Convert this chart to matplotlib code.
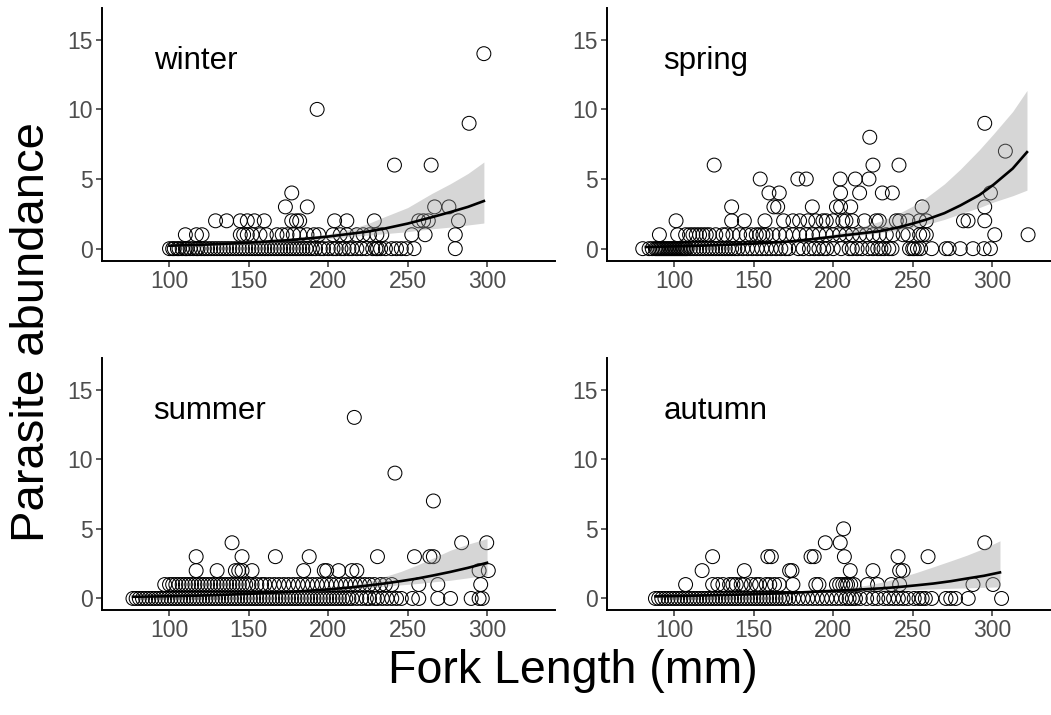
import matplotlib
matplotlib.use("Agg")
import matplotlib.pyplot as plt
import numpy as np

plt.rcParams['font.family'] = ['Liberation Sans', 'DejaVu Sans']

# fork length (mm) of each fish, grouped by parasite count
winter = {
    0: [100, 102, 103, 105, 106, 108, 110, 111, 113, 115, 117, 118, 120, 122, 124,
        126, 128, 130, 132, 134, 136, 138, 140, 142, 144, 146, 148, 150, 152, 154,
        156, 158, 160, 162, 164, 166, 168, 170, 172, 174, 176, 178, 180, 182, 184,
        186, 188, 190, 192, 195, 197, 200, 203, 205, 208, 210, 213, 215, 218, 221,
        224, 228, 230, 231, 233, 236, 240, 243, 246, 249, 254, 280],
    1: [110, 117, 120.5, 144.6, 146.7, 149, 152, 157, 161, 167.7, 171, 174, 178, 182,
        186.6, 191, 194, 203, 207.5, 211.7, 218, 222, 226, 230.6, 233.7, 252.6, 261, 280],
    2: [129, 136, 144.6, 149, 153.5, 159.7, 177, 180, 182, 204, 211.7, 229, 257, 260,
        263, 282],
    3: [173, 186.8, 267, 276],
    4: [177],
    6: [241.7, 264.8],
    9: [288.7],
    10: [193],
    14: [298],
}

spring = {
    0: [80, 84, 86, 88, 89, 90, 91, 92, 93, 94, 95, 96, 97, 98, 99, 100, 101, 102,
        103, 104, 105, 106, 107, 108, 110, 112, 114, 116, 118, 120, 122, 124, 126,
        128, 130, 132, 134, 136, 138, 140, 143, 146, 149, 152, 155, 158, 161, 164,
        167, 170, 172, 178, 181, 185, 188, 191, 194, 196, 200, 205, 210, 212, 215,
        218, 222, 225, 228, 230, 232, 235, 237, 248, 250, 251, 253, 255, 262, 271,
        273, 280, 288, 295, 299],
    1: [90.5, 102, 107, 109.5, 111.6, 113.7, 115.8, 117.9, 120, 122, 126, 130.5,
        132.6, 136.8, 141, 145.2, 148.3, 151.5, 153.6, 155.7, 157.8, 162, 166, 170,
        174.6, 178.8, 183, 187, 191, 195.6, 199.8, 204, 208, 212, 216.6, 220.8, 225,
        229, 233.4, 237.6, 244, 247, 254.4, 256.5, 258.6, 301.7, 322.7],
    2: [101, 136, 144, 157, 168.7, 174.6, 178.8, 184, 189, 193.5, 195.6, 199.8, 206,
        208, 212, 219.7, 227, 229, 239.7, 241.8, 247, 254.4, 258.6, 282, 284.9, 295.4],
    3: [136, 162.6, 165, 186.8, 202, 204.6, 211, 256, 295.4],
    4: [159.5, 166, 204.6, 216.6, 230.9, 237.2, 299],
    5: [154, 177.7, 183, 204.4, 213.9, 222.5],
    6: [125, 225, 241.4],
    7: [308.4],
    8: [223],
    9: [295.4],
}

summer = {
    0: [77, 79, 81, 83, 85, 87, 89, 91, 93, 95, 97, 99, 101, 103, 105, 107, 109, 111,
        113, 115, 117, 119, 121, 123, 125, 127, 129, 131, 133, 135, 137, 139, 141,
        143, 145, 147, 149, 151, 153, 155, 157, 159, 161, 163, 165, 167, 169, 171,
        173, 175, 177, 179, 181, 183, 185, 187, 189, 191, 193, 195, 197, 199, 201,
        203, 205, 207, 209, 211, 213, 215, 218, 221, 224, 226, 229, 231, 234, 237,
        240, 243, 246, 253, 257, 269, 277, 290, 295, 297],
    1: [97, 100, 102, 104, 106, 108, 110, 112, 114, 116, 118, 120, 122, 124, 126, 128,
        130, 132, 134, 136, 138, 140, 142, 144, 146, 148, 150, 152, 155, 158, 160,
        163, 166, 169, 172, 175, 178, 181, 184, 187, 190, 193, 196, 199, 202, 205,
        208, 211, 214, 217, 220, 223, 226, 229, 233, 236, 240, 257, 269, 296],
    2: [116.8, 130, 141.5, 143.6, 145.7, 152, 184.5, 197.5, 199, 206.5, 214.9, 218,
        295, 300.8],
    3: [116.8, 145.7, 166.7, 188, 231, 254.3, 264, 266.2],
    4: [139.4, 284, 299.8],
    7: [266.2],
    9: [242],
    13: [216.4],
}

autumn = {
    0: [88, 90, 92, 94, 96, 98, 100, 102, 104, 106, 108, 110, 112, 114, 116, 118,
        120, 122, 124, 126, 128, 130, 132, 134, 136, 138, 140, 142, 144, 146, 148,
        150, 152, 154, 156, 158, 160, 162, 164, 166, 168, 170, 172, 175, 178, 181,
        184, 187, 190, 193, 196, 199, 202, 205, 208, 210, 212, 214, 217, 221, 225,
        228, 232, 235, 238, 241, 244, 247, 251, 254, 256, 258, 262, 271, 274, 277,
        285, 306],
    1: [107, 124, 127.3, 130.5, 134.7, 136.8, 138.9, 142, 144, 148.3, 151.5, 153.6,
        157.8, 160, 163, 166, 174.6, 189, 191, 202, 204, 206, 207.8, 209, 211, 213,
        221.6, 227.9, 236.6, 241.8, 288, 300.6],
    2: [117.4, 144, 172.5, 174, 210.7, 225, 241.8, 244],
    3: [124, 158.8, 161, 186, 188, 207, 240.8, 259.7],
    4: [195, 204.4, 295.4],
    5: [206.5],
}

# fitted curve and its shaded band
winter_fx = [100, 125, 150, 175, 193, 200, 214, 225, 235, 250, 256, 265, 277, 288, 298]
winter_fit = [0.21, 0.3, 0.43, 0.61, 0.79, 0.87, 1.07, 1.23, 1.43, 1.8, 1.98, 2.25,
              2.63, 3.0, 3.42]
winter_lo = [0.13, 0.2, 0.32, 0.5, 0.66, 0.72, 0.88, 0.97, 1.07, 1.22, 1.31, 1.42,
             1.55, 1.7, 1.84]
winter_hi = [0.34, 0.44, 0.57, 0.75, 0.95, 1.05, 1.4, 1.8, 2.27, 2.95, 3.35, 3.95,
             4.67, 5.4, 6.22]

spring_fx = [82, 100, 125, 150, 166, 175, 198, 210, 229, 240, 250, 259, 270, 280,
             292, 301, 313, 322]
spring_fit = [0.12, 0.16, 0.24, 0.36, 0.47, 0.54, 0.83, 1.0, 1.25, 1.5, 1.8, 2.1,
              2.55, 3.1, 3.85, 4.6, 5.75, 6.93]
spring_lo = [0.09, 0.13, 0.2, 0.31, 0.41, 0.47, 0.73, 0.88, 1.12, 1.3, 1.5, 1.75,
             2.1, 2.5, 2.95, 3.35, 3.8, 4.2]
spring_hi = [0.16, 0.2, 0.29, 0.42, 0.54, 0.63, 1.0, 1.3, 1.95, 2.45, 3.05, 3.7,
             4.65, 5.7, 7.1, 8.25, 9.85, 11.36]

summer_fx = [77, 100, 125, 150, 175, 200, 214, 225, 235, 246, 256, 266, 277, 288, 300]
summer_fit = [0.12, 0.16, 0.22, 0.33, 0.46, 0.65, 0.79, 0.93, 1.07, 1.25, 1.43, 1.65,
              1.91, 2.2, 2.56]
summer_lo = [0.09, 0.12, 0.18, 0.28, 0.4, 0.56, 0.66, 0.77, 0.88, 0.98, 1.07, 1.19,
             1.31, 1.48, 1.67]
summer_hi = [0.16, 0.2, 0.27, 0.38, 0.53, 0.76, 0.95, 1.2, 1.55, 1.95, 2.4, 2.9,
             3.47, 3.9, 4.3]

autumn_fx = [88, 100, 125, 150, 175, 200, 210, 221, 232, 242, 252, 263, 274, 284,
             295, 305]
autumn_fit = [0.15, 0.17, 0.23, 0.3, 0.41, 0.55, 0.6, 0.67, 0.74, 0.83, 0.94, 1.07,
              1.24, 1.43, 1.63, 1.87]
autumn_lo = [0.1, 0.12, 0.18, 0.25, 0.35, 0.47, 0.51, 0.55, 0.58, 0.6, 0.64, 0.69,
             0.73, 0.76, 0.8, 0.83]
autumn_hi = [0.22, 0.24, 0.29, 0.36, 0.48, 0.65, 0.78, 0.95, 1.2, 1.5, 1.85, 2.27,
             2.7, 3.1, 3.6, 4.14]

seasons = ['winter', 'spring', 'summer', 'autumn']
counts = [winter, spring, summer, autumn]
fits = [(winter_fx, winter_fit, winter_lo, winter_hi),
        (spring_fx, spring_fit, spring_lo, spring_hi),
        (summer_fx, summer_fit, summer_lo, summer_hi),
        (autumn_fx, autumn_fit, autumn_lo, autumn_hi)]
xticks = [100, 150, 200, 250, 300]
yticks = [0, 5, 10, 15]

W, H = 1051, 715
fig = plt.figure(figsize=(W / 100, H / 100), dpi=100)

# panel boxes in pixels: left edge, bottom edge (from top)
lefts = [102, 607, 102, 607]
bottoms = [260.5, 260.5, 610.3, 610.3]
pw, ph = 453, 252.8
label_x = [90, 93, 90, 93]

for i, name in enumerate(seasons):
    ax = fig.add_axes([lefts[i] / W, 1 - bottoms[i] / H, pw / W, ph / H])
    xs, ys = [], []
    for k, v in counts[i].items():
        xs += v
        ys += [k] * len(v)
    ax.scatter(xs, ys, s=100, facecolors='none', edgecolors='black',
               linewidths=0.75, zorder=2)
    fx, fit, lo, hi = fits[i]
    ax.fill_between(fx, lo, hi, color='#999999', alpha=0.4, lw=0, zorder=3)
    ax.plot(fx, fit, color='black', lw=1.9, zorder=4)
    ax.text(label_x[i], 12.9, name, fontsize=22.5, ha='left', va='baseline')

    ax.set_xlim(57.5, 342.8)
    ax.set_ylim(-0.85, 17.3)
    ax.set_xticks(xticks)
    ax.set_yticks(yticks)
    for s in ['top', 'right']:
        ax.spines[s].set_visible(False)
    for s in ['left', 'bottom']:
        ax.spines[s].set_linewidth(1.4)
    ax.tick_params(length=4, width=1.1, color='#333333', labelcolor='#4D4D4D',
                   labelsize=16.5, pad=2.5)

fig.text(0.545, 0.0448, 'Fork Length (mm)', fontsize=33.5, ha='center', va='baseline')
fig.text(0.030, 0.536, 'Parasite abundance', fontsize=34, rotation=90,
         ha='center', va='center')

fig.savefig('out.png', dpi=100)
